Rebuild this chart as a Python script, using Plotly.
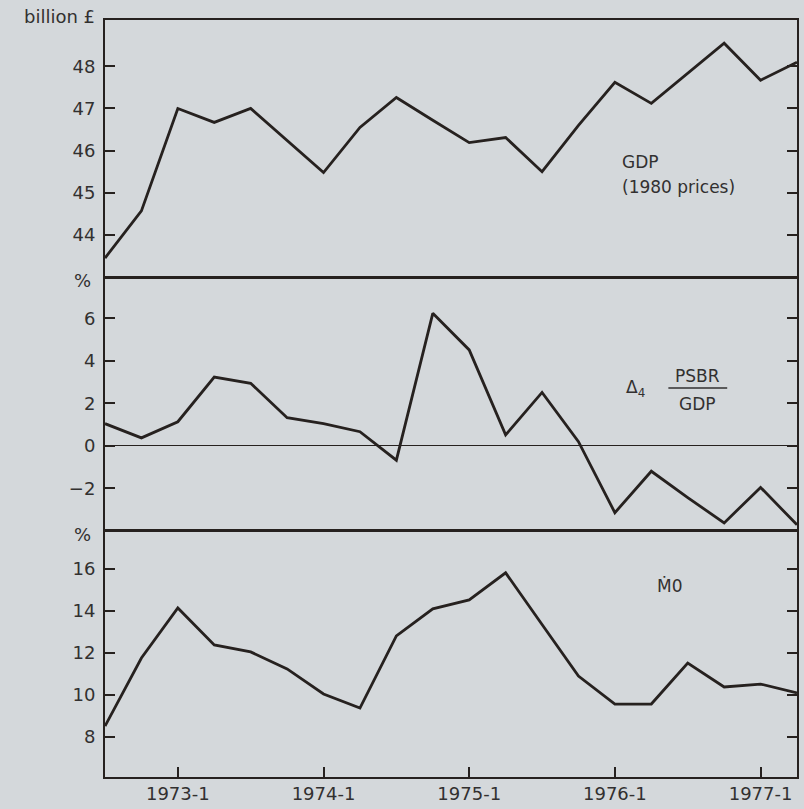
import plotly.graph_objects as go

quarters = ["1972-3", "1972-4", "1973-1", "1973-2", "1973-3", "1973-4",
            "1974-1", "1974-2", "1974-3", "1974-4", "1975-1", "1975-2",
            "1975-3", "1975-4", "1976-1", "1976-2", "1976-3", "1976-4",
            "1977-1", "1977-2"]
gdp = [43.45, 44.57, 47.0, 46.67, 47.0, 46.24, 45.48, 46.55, 47.26, 46.72,
       46.19, 46.31, 45.5, 46.6, 47.62, 47.12, 47.83, 48.55, 47.67, 48.1]
psbr = [1.05, 0.38, 1.14, 3.24, 2.95, 1.33, 1.05, 0.67, -0.67, 6.24,
        4.52, 0.52, 2.52, 0.2, -3.14, -1.19, -2.43, -3.62, -1.95, -3.71]
m0 = [8.52, 11.76, 14.14, 12.38, 12.05, 11.24, 10.05, 9.38, 12.81, 14.1,
      14.52, 15.81, 13.35, 10.9, 9.57, 9.57, 11.52, 10.38, 10.52, 10.1]

xtick_labels = ["1973-1", "1974-1", "1975-1", "1976-1", "1977-1"]
gdp_ticks = [44, 45, 46, 47, 48]
psbr_ticks = [-2, 0, 2, 4, 6]
m0_ticks = [8, 10, 12, 14, 16]


def qnum(q):
    return int(q[:4]) + (int(q[-1]) - 1) / 4


x = [qnum(q) for q in quarters]
xtick_vals = [qnum(t) for t in xtick_labels]

BG = "rgb(212,216,219)"
INK = "rgb(38,33,31)"
TXT = "rgb(50,48,48)"
FONT = "DejaVu Sans"

fig = go.Figure()
for ys, xa, ya in [(gdp, "x", "y"), (psbr, "x2", "y2"), (m0, "x3", "y3")]:
    fig.add_trace(go.Scatter(x=x, y=ys, xaxis=xa, yaxis=ya, mode="lines",
                             line=dict(color=INK, width=2.8),
                             showlegend=False, hoverinfo="skip"))

xr = [1972.5, 1977.25]
xcommon = dict(range=xr, showgrid=False, zeroline=False, showline=True,
               mirror=True, linecolor=INK, linewidth=1.2,
               tickvals=xtick_vals, ticktext=xtick_labels)
ycommon = dict(showgrid=False, showline=True, mirror="ticks", linecolor=INK,
               linewidth=2, ticks="inside", ticklen=10, tickwidth=1.6,
               tickcolor=INK, tickfont=dict(family=FONT, size=18, color=TXT),
               ticklabelstandoff=4)

d1 = [0.6605, 1.0]
d2 = [0.325, 0.6605]
d3 = [0.0, 0.325]

fig.update_layout(
    width=804, height=809,
    margin=dict(l=105, r=5, t=20, b=32),
    paper_bgcolor=BG, plot_bgcolor=BG,
    font=dict(family=FONT, color=TXT),
    xaxis=dict(xcommon, anchor="y", domain=[0, 1], showticklabels=False, ticks="",
               linewidth=1.6),
    xaxis2=dict(xcommon, anchor="y2", domain=[0, 1], showticklabels=False, ticks="",
                matches="x"),
    xaxis3=dict(xcommon, anchor="y3", domain=[0, 1], matches="x",
                ticks="inside", ticklen=10, tickwidth=1.6, tickcolor=INK,
                linewidth=1.6,
                tickfont=dict(family=FONT, size=18, color=TXT)),
    yaxis=dict(ycommon, anchor="x", domain=d1, range=[43.0, 49.1],
               tickvals=gdp_ticks, zeroline=False),
    yaxis2=dict(ycommon, anchor="x2", domain=d2, range=[-4.0, 7.95],
                tickvals=psbr_ticks, zeroline=True, zerolinecolor=INK,
                zerolinewidth=1.3),
    yaxis3=dict(ycommon, anchor="x3", domain=d3, range=[6.1, 17.8],
                tickvals=m0_ticks, zeroline=False),
)

def px(xp):
    return (xp - 105) / 694

def py(yp):
    return (777 - yp) / 757

ann = [
    dict(text="billion £", x=px(97), y=py(17), xanchor="right", size=18),
    dict(text="%", x=px(93), y=py(280), xanchor="right", size=18),
    dict(text="%", x=px(93), y=py(534), xanchor="right", size=18),
    dict(text="GDP", x=px(621), y=py(162), xanchor="left", size=17),
    dict(text="(1980 prices)", x=px(621), y=py(187), xanchor="left", size=17),
    dict(text="Δ<sub>4</sub>", x=px(626), y=py(388), xanchor="left", size=17),
    dict(text="PSBR", x=px(699), y=py(376), xanchor="center", size=17),
    dict(text="GDP", x=px(699), y=py(404), xanchor="center", size=17),
    dict(text="Ṁ0", x=px(671), y=py(586), xanchor="center", size=17),
]
fig.update_layout(annotations=[
    dict(text=a["text"], x=a["x"], y=a["y"], xref="paper", yref="paper",
         xanchor=a["xanchor"], yanchor="middle", showarrow=False,
         font=dict(family=FONT, size=a["size"], color=TXT))
    for a in ann
])
fig.add_shape(type="line", xref="paper", yref="paper",
              x0=px(670), x1=px(729), y0=py(388), y1=py(388),
              line=dict(color=TXT, width=1.3))

fig.write_html(
    "out.html",
    config={"displayModeBar": False},
    post_script="document.body.style.margin='0';"
                "document.body.style.background='rgb(212,216,219)';"
                "document.body.style.overflow='hidden';",
)
